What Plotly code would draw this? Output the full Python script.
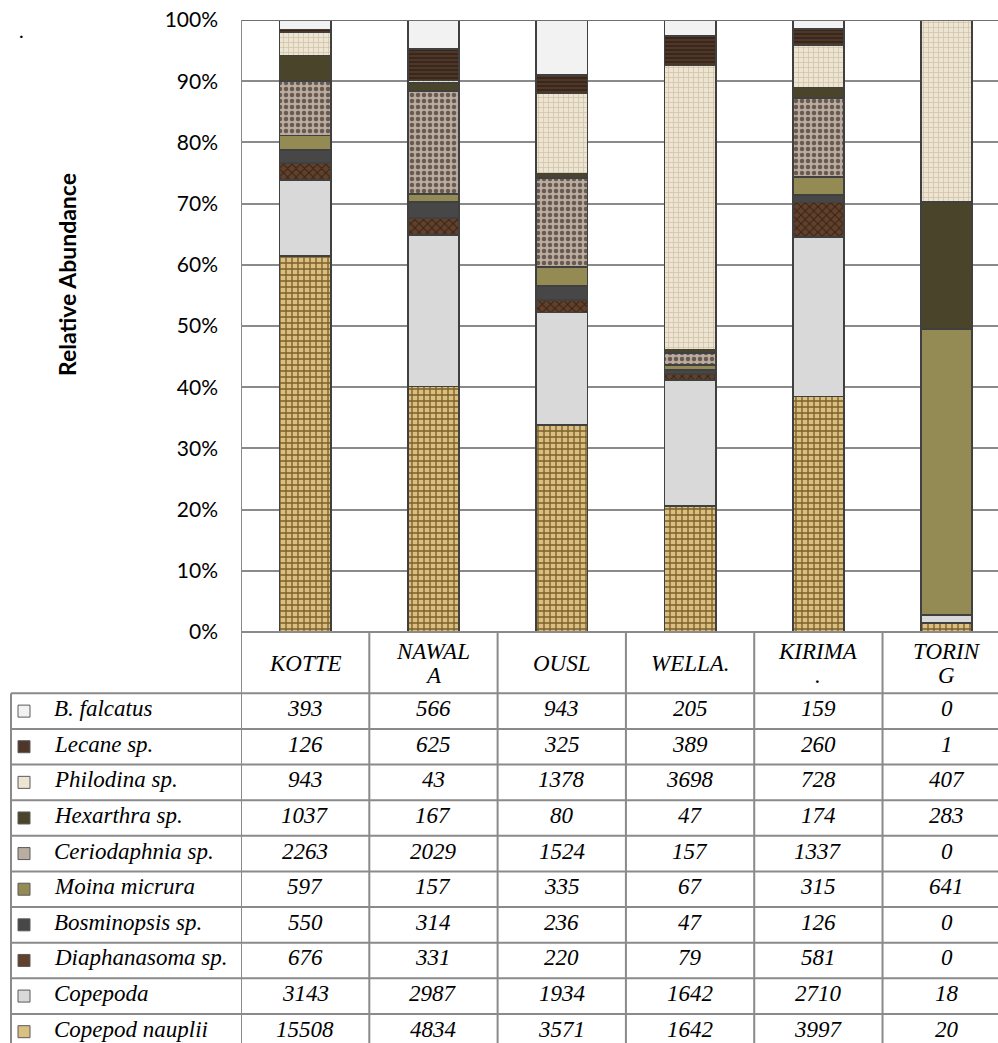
import plotly.graph_objects as go

# ---- data -------------------------------------------------------------
sites = ["KOTTE", "NAWALA", "OUSL", "WELLA.", "KIRIMA.", "TORING"]
site_headers = ["KOTTE", "NAWAL\nA", "OUSL", "WELLA.", "KIRIMA\n.", "TORIN\nG"]

taxa = ["B. falcatus", "Lecane sp.", "Philodina sp.", "Hexarthra sp.",
        "Ceriodaphnia sp.", "Moina micrura", "Bosminopsis sp.",
        "Diaphanasoma sp.", "Copepoda", "Copepod nauplii"]

b_falcatus = [393, 566, 943, 205, 159, 0]
lecane = [126, 625, 325, 389, 260, 1]
philodina = [943, 43, 1378, 3698, 728, 407]
hexarthra = [1037, 167, 80, 47, 174, 283]
ceriodaphnia = [2263, 2029, 1524, 157, 1337, 0]
moina = [597, 157, 335, 67, 315, 641]
bosminopsis = [550, 314, 236, 47, 126, 0]
diaphanasoma = [676, 331, 220, 79, 581, 0]
copepoda = [3143, 2987, 1934, 1642, 2710, 18]
nauplii = [15508, 4834, 3571, 1642, 3997, 20]

y_ticks = [0, 10, 20, 30, 40, 50, 60, 70, 80, 90, 100]
y_tick_text = [f"{v}%" for v in y_ticks]

counts = {
    "B. falcatus": b_falcatus,
    "Lecane sp.": lecane,
    "Philodina sp.": philodina,
    "Hexarthra sp.": hexarthra,
    "Ceriodaphnia sp.": ceriodaphnia,
    "Moina micrura": moina,
    "Bosminopsis sp.": bosminopsis,
    "Diaphanasoma sp.": diaphanasoma,
    "Copepoda": copepoda,
    "Copepod nauplii": nauplii,
}

# ---- styles -----------------------------------------------------------
styles = {
    "B. falcatus": dict(color="#F2F2F2"),
    "Lecane sp.": dict(color="#4B3324",
                       pattern=dict(shape="-", fgcolor="#2C1C12", bgcolor="#4E3628",
                                    size=4, solidity=0.3, fillmode="replace")),
    "Philodina sp.": dict(color="#E9E0CB",
                          pattern=dict(shape="+", fgcolor="#CDBFA3", bgcolor="#EDE5D2",
                                       size=5, solidity=0.25, fillmode="replace")),
    "Hexarthra sp.": dict(color="#4A442B"),
    "Ceriodaphnia sp.": dict(color="#A8998C",
                             pattern=dict(shape=".", fgcolor="#6A5A4E", bgcolor="#B9ACA0",
                                          size=6, solidity=0.45, fillmode="replace")),
    "Moina micrura": dict(color="#948A54"),
    "Bosminopsis sp.": dict(color="#474747"),
    "Diaphanasoma sp.": dict(color="#5A3A26",
                             pattern=dict(shape="x", fgcolor="#3A2416", bgcolor="#62412C",
                                          size=6, solidity=0.35, fillmode="replace")),
    "Copepoda": dict(color="#D9D9D9"),
    "Copepod nauplii": dict(color="#CDB077",
                            pattern=dict(shape="+", fgcolor="#7E5F2A", bgcolor="#D9BF80",
                                         size=6, solidity=0.4, fillmode="replace")),
}

W, H = 998, 1043
PLOT_L, PLOT_R, PLOT_T, PLOT_B = 241, 998, 20, 632
TABLE_L = 11
HEADER_B = 693.3
ROW_H = 35.62
TEXT_LIFT = 2.5

GRID = "#8A8A8A"
OUTLINE = "#404040"
SERIF = "Liberation Serif"
SANS = "Lato"


def px_x(p):
    return (p - PLOT_L) / (PLOT_R - PLOT_L)


def px_y(p):
    return (PLOT_B - p) / (PLOT_B - PLOT_T)


fig = go.Figure()

# bars stacked bottom-up: last table row sits at the bottom of each column
for name in reversed(taxa):
    st = styles[name]
    marker = dict(color=st["color"], line=dict(color=OUTLINE, width=1.8))
    if "pattern" in st:
        marker["pattern"] = st["pattern"]
    fig.add_trace(go.Bar(name=name, x=sites, y=counts[name], marker=marker,
                         hoverinfo="name+y"))

shapes = []
annotations = []

# top edge of the plot
shapes.append(dict(type="line", xref="paper", yref="y", x0=0, x1=1, y0=100, y1=100,
                   line=dict(color="#6E6E6E", width=2)))
# 0% baseline / table top
shapes.append(dict(type="line", xref="paper", yref="paper", x0=0, x1=1, y0=0, y1=0,
                   line=dict(color=GRID, width=2)))
# left plot edge continuing through the table
shapes.append(dict(type="line", xref="x", yref="paper", x0=-0.5, x1=-0.5,
                   y0=px_y(H + 10), y1=1, line=dict(color=GRID, width=2)))
# column separators in the table
for k in range(1, len(sites)):
    shapes.append(dict(type="line", xref="x", yref="paper", x0=k - 0.5, x1=k - 0.5,
                       y0=px_y(H + 10), y1=0, line=dict(color=GRID, width=2)))
# table left border
shapes.append(dict(type="line", xref="paper", yref="paper", x0=px_x(TABLE_L), x1=px_x(TABLE_L),
                   y0=px_y(H + 10), y1=px_y(HEADER_B), line=dict(color=GRID, width=2)))
# table row lines
for r in range(len(taxa) + 1):
    yy = HEADER_B + r * ROW_H
    if yy > H:
        break
    shapes.append(dict(type="line", xref="paper", yref="paper", x0=px_x(TABLE_L), x1=1,
                       y0=px_y(yy), y1=px_y(yy), line=dict(color=GRID, width=2)))

cell_font = dict(family=SERIF, size=23, color="#000000")

# header cells
for site, head in zip(sites, site_headers):
    lines = head.split("\n")
    cy = (PLOT_B + HEADER_B) / 2 + 1
    step = 24
    for i, ln in enumerate(lines):
        off = (i - (len(lines) - 1) / 2) * step
        annotations.append(dict(xref="x", yref="paper", x=site, y=px_y(cy + off),
                                text=f"<i>{ln}</i>", showarrow=False,
                                xanchor="center", yanchor="middle", font=cell_font))

# table body
for r, name in enumerate(taxa):
    cy = HEADER_B + (r + 0.5) * ROW_H
    ty = cy - TEXT_LIFT
    st = styles[name]
    key_fill = st["pattern"]["bgcolor"] if "pattern" in st else st["color"]
    shapes.append(dict(type="rect", xref="paper", yref="paper",
                       x0=px_x(18), x1=px_x(30), y0=px_y(cy - 6), y1=px_y(cy + 6),
                       fillcolor=key_fill, line=dict(color="#5A5A5A", width=1)))
    annotations.append(dict(xref="paper", yref="paper", x=px_x(52), y=px_y(ty),
                            text=f"<i>{name}</i>", showarrow=False,
                            xanchor="left", yanchor="middle", font=cell_font))
    for site, v in zip(sites, counts[name]):
        annotations.append(dict(xref="x", yref="paper", x=site, y=px_y(ty),
                                text=f"<i>{v}</i>", showarrow=False,
                                xanchor="center", yanchor="middle", font=cell_font))

# axis title
annotations.append(dict(xref="paper", yref="paper", x=px_x(67), y=px_y(275),
                        text="<b>Relative Abundance</b>", showarrow=False, textangle=-90,
                        xanchor="center", yanchor="middle",
                        font=dict(family=SANS, size=23, color="#000000")))
# stray dot in the top-left corner
annotations.append(dict(xref="paper", yref="paper", x=px_x(21), y=px_y(30),
                        text=".", showarrow=False, xanchor="center", yanchor="middle",
                        font=dict(family=SANS, size=20, color="#000000")))

fig.update_layout(
    width=W, height=H, autosize=False,
    margin=dict(l=PLOT_L, r=W - PLOT_R, t=PLOT_T, b=H - PLOT_B, pad=0),
    barmode="stack", barnorm="percent", bargap=0.6,
    paper_bgcolor="white", plot_bgcolor="white",
    showlegend=False,
    shapes=shapes, annotations=annotations,
    xaxis=dict(range=[-0.5, 5.4], showticklabels=False, showgrid=False, zeroline=False,
               showline=False, fixedrange=True),
    yaxis=dict(range=[0, 100], tickvals=y_ticks, ticktext=y_tick_text, showgrid=True,
               gridcolor=GRID, gridwidth=2, zeroline=False, showline=False,
               ticks="", ticklabelstandoff=22,
               tickfont=dict(family=SANS, size=21, color="#000000")),
)

fig.write_html("out.html")
